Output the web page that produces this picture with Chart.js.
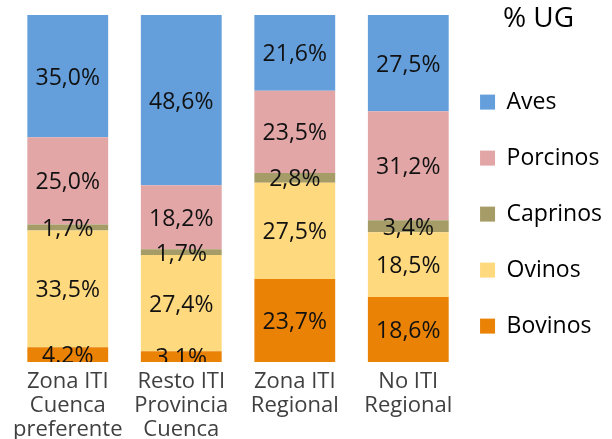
<!DOCTYPE html>
<html>
<head>
<meta charset="utf-8">
<script src="https://cdn.jsdelivr.net/npm/chart.js@4.4.1/dist/chart.umd.min.js"></script>
<style>
  html, body { margin: 0; padding: 0; background: #fff; }
  #wrap { width: 612px; height: 439px; }
</style>
</head>
<body>
<div id="wrap"><canvas id="chart"></canvas></div>
<script>
// Categories (multi-line x labels)
const categories = [
  ["Zona ITI", "Cuenca", "preferente"],
  ["Resto ITI", "Provincia", "Cuenca"],
  ["Zona ITI", "Regional"],
  ["No ITI", "Regional"]
];

// % UG per species, one value per category
const bovinos = [4.2, 3.1, 23.7, 18.6];
const ovinos = [33.5, 27.4, 27.5, 18.5];
const caprinos = [1.7, 1.7, 2.8, 3.4];
const porcinos = [25.0, 18.2, 23.5, 31.2];
const aves = [35.0, 48.6, 21.6, 27.5];

// two of the bottom labels are printed with a dot in the original
const bovinosLabels = ["4.2%", "3.1%", "23,7%", "18,6%"];

const fontFamily = "'Open Sans'";

function fmt(v) {
  return v.toFixed(1).replace(".", ",") + "%";
}

// bottom to top of the stack
const series = [
  { name: "Bovinos", values: bovinos, color: "#ea8206", labels: bovinosLabels },
  { name: "Ovinos", values: ovinos, color: "#ffd97e" },
  { name: "Caprinos", values: caprinos, color: "#a69c67" },
  { name: "Porcinos", values: porcinos, color: "#e2a6a6" },
  { name: "Aves", values: aves, color: "#649fdc" }
];

// 100% stacked: each column is scaled to its own total
const totals = categories.map((c, i) =>
  series.reduce((sum, s) => sum + s.values[i], 0)
);

const datasets = series.map((s) => ({
  label: s.name,
  data: s.values.map((v, i) => (v / totals[i]) * 100),
  valueLabels: s.labels || s.values.map(fmt),
  backgroundColor: s.color,
  borderWidth: 0,
  barPercentage: 0.712,
  categoryPercentage: 1
}));

// Draws the value inside each segment, clipped to the plot area
const barLabels = {
  id: "barLabels",
  afterDatasetsDraw(chart) {
    const { ctx, chartArea } = chart;
    ctx.save();
    ctx.beginPath();
    ctx.rect(chartArea.left, chartArea.top, chartArea.right - chartArea.left, chartArea.bottom - chartArea.top);
    ctx.clip();
    ctx.font = "23px " + fontFamily;
    ctx.fillStyle = "#111111";
    ctx.textAlign = "center";
    ctx.textBaseline = "middle";
    chart.data.datasets.forEach((ds, di) => {
      chart.getDatasetMeta(di).data.forEach((bar, i) => {
        ctx.fillText(ds.valueLabels[i], bar.x, (bar.y + bar.base) / 2 + 2);
      });
    });
    ctx.restore();
  }
};

const ctx = document.getElementById("chart").getContext("2d");

new Chart(ctx, {
  type: "bar",
  data: {
    labels: categories,
    datasets: datasets
  },
  options: {
    responsive: true,
    maintainAspectRatio: false,
    animation: false,
    devicePixelRatio: 1,
    layout: {
      padding: { top: 0, left: 11, right: 0, bottom: 0 }
    },
    scales: {
      x: {
        stacked: true,
        grid: { display: false, drawTicks: false },
        border: { display: false },
        ticks: {
          color: "#404040",
          padding: 8,
          maxRotation: 0,
          autoSkip: false,
          font: { family: fontFamily, size: 22, lineHeight: "24px" }
        },
        afterFit: (scale) => {
          scale.height = 77;
        }
      },
      y: {
        stacked: true,
        display: false,
        min: 0,
        // leaves the 15px white band above the columns
        max: (100 * 362) / 347
      }
    },
    plugins: {
      tooltip: { enabled: false },
      legend: {
        position: "right",
        align: "start",
        reverse: true,
        title: {
          display: true,
          text: "% UG",
          color: "#000000",
          font: { family: fontFamily, size: 28 },
          padding: { top: 5, bottom: 37 }
        },
        labels: {
          color: "#000000",
          boxWidth: 15,
          boxHeight: 15,
          padding: 15,
          font: { family: fontFamily, size: 23, lineHeight: "41px" },
          // text as an array so the row height follows lineHeight
          generateLabels: (chart) =>
            Chart.defaults.plugins.legend.labels
              .generateLabels(chart)
              .map((item) => ({ ...item, text: [item.text] }))
        }
      }
    }
  },
  plugins: [barLabels]
});
</script>
</body>
</html>
